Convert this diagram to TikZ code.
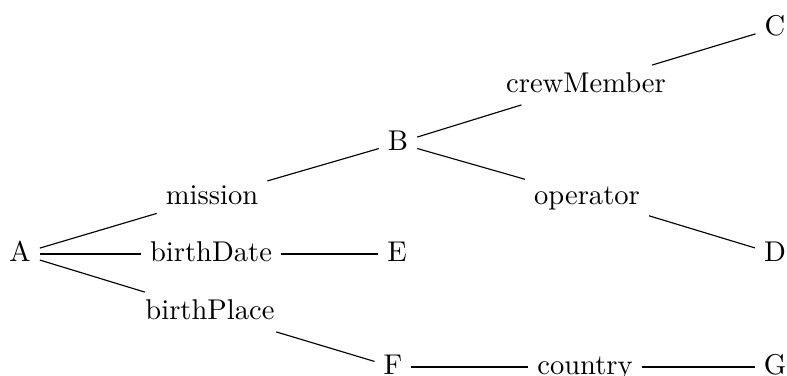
\documentclass[tikz,border=0pt]{standalone}
\usepackage{tikz}
\usetikzlibrary{positioning}
\tikzset{
    % Node styles
    treenode/.style={
        text height=1.5ex,
        text depth=0.25ex,
        inner sep=3pt
    },
    edgelabel/.style={
        text height=1.5ex,
        text depth=0.25ex,
        inner sep=3pt
    },
    % Line styles
    treeline/.style={
        thin,
        black
    }
}
\begin{document}
\begin{tikzpicture}[x=0.35pt, y=-0.35pt]
    \useasboundingbox (0,0) rectangle (787,376);

    % Entities
    \node[treenode] (A) at (20,254) {A};
    \node[treenode] (B) at (398,143) {B};
    \node[treenode] (E) at (397,254) {E};
    \node[treenode] (F) at (393,367) {F};
    \node[treenode] (C) at (775,28) {C};
    \node[treenode] (D) at (775,254) {D};
    \node[treenode] (G) at (775,367) {G};

    % Relations
    \node[edgelabel] (mission) at (212,197) {mission};
    \node[edgelabel] (birthDate) at (211,254) {birthDate};
    \node[edgelabel] (birthPlace) at (210,312) {birthPlace};
    \node[edgelabel] (crewMember) at (586,85) {crewMember};
    \node[edgelabel] (operator) at (587,197) {operator};
    \node[edgelabel] (country) at (585,367) {country};

    % Edges
    \draw[treeline] (A) -- (mission);
    \draw[treeline] (mission) -- (B);
    \draw[treeline] (A) -- (birthDate);
    \draw[treeline] (birthDate) -- (E);
    \draw[treeline] (A) -- (birthPlace);
    \draw[treeline] (birthPlace) -- (F);
    \draw[treeline] (B) -- (crewMember);
    \draw[treeline] (crewMember) -- (C);
    \draw[treeline] (B) -- (operator);
    \draw[treeline] (operator) -- (D);
    \draw[treeline] (F) -- (country);
    \draw[treeline] (country) -- (G);
\end{tikzpicture}
\end{document}
